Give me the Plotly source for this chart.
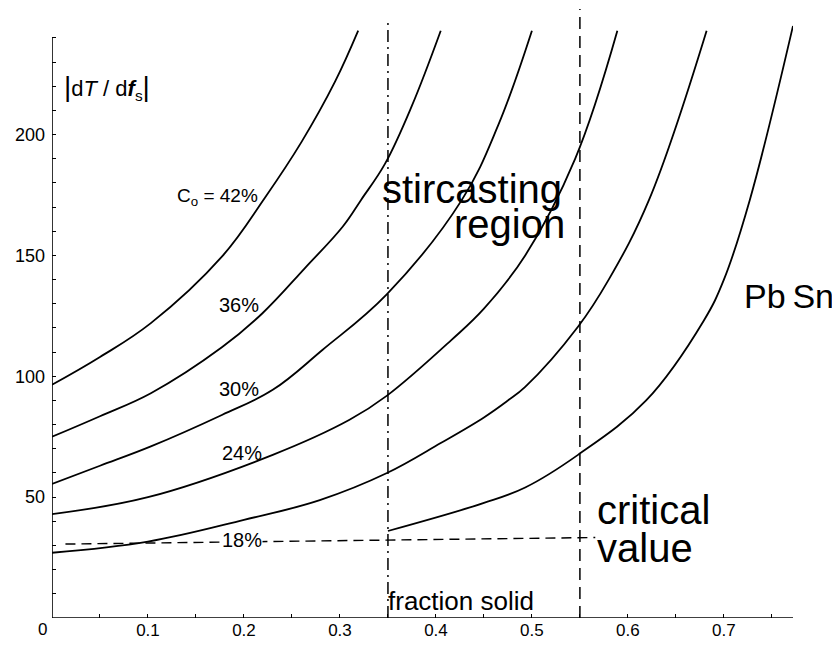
import plotly.graph_objects as go

# ---- data ----
x_42 = [0, 0.05, 0.103, 0.177, 0.222, 0.26, 0.295, 0.319]
y_42 = [96.5, 108, 122, 149.5, 174, 197, 222, 243]

x_36 = [0, 0.05, 0.103, 0.177, 0.219, 0.264, 0.303, 0.322, 0.347, 0.375, 0.405]
y_36 = [75, 83.5, 93, 112, 126, 145, 162, 173, 188, 212, 243]

x_30 = [0, 0.05, 0.103, 0.177, 0.23, 0.282, 0.349, 0.427, 0.465, 0.5]
y_30 = [55.5, 63, 71, 84, 94.4, 111, 134, 173, 204, 243]

x_24 = [0, 0.1, 0.23, 0.31, 0.349, 0.416, 0.45, 0.493, 0.545, 0.589]
y_24 = [43, 50, 67.5, 82, 92, 115, 128, 150, 190, 243]

x_18 = [0, 0.1, 0.2, 0.279, 0.349, 0.405, 0.45, 0.475, 0.493, 0.548, 0.58, 0.622, 0.682]
y_18 = [27, 31.6, 40.6, 48.8, 60, 72.4, 83, 90, 95.6, 120.5, 140, 173, 243]

x_low = [0.35, 0.45, 0.493, 0.548, 0.619, 0.679, 0.7, 0.727, 0.772]
y_low = [36, 47.6, 54, 67.5, 90, 123, 140, 173, 245]

crit_x = [0.014, 0.566]
crit_y = [30.6, 33.3]

stir_lo = 0.35
stir_hi = 0.55
stir_lo_top = 248
stir_hi_top = 252

x_tickvals = [0.05, 0.1, 0.15, 0.2, 0.25, 0.3, 0.35, 0.4, 0.45, 0.5, 0.55, 0.6, 0.65, 0.7, 0.75]
x_ticktext = ["", "0.1", "", "0.2", "", "0.3", "", "0.4", "", "0.5", "", "0.6", "", "0.7", ""]
y_tickvals = list(range(10, 250, 10))
y_ticktext = [str(v) if v in (50, 100, 150, 200) else "" for v in y_tickvals]

FONT = "Liberation Sans"

fig = go.Figure()

for xs, ys in [(x_42, y_42), (x_36, y_36), (x_30, y_30), (x_24, y_24), (x_18, y_18), (x_low, y_low)]:
    fig.add_trace(go.Scatter(x=xs, y=ys, mode="lines",
                             line=dict(color="black", width=1.8, shape="spline", smoothing=1.1),
                             hoverinfo="skip", showlegend=False))

fig.add_trace(go.Scatter(x=crit_x, y=crit_y, mode="lines",
                         line=dict(color="black", width=1.4, dash="10px,6px"),
                         hoverinfo="skip", showlegend=False))
fig.add_trace(go.Scatter(x=[stir_lo, stir_lo], y=[0, stir_lo_top], mode="lines",
                         line=dict(color="black", width=1.5, dash="12px,5px,2px,5px"),
                         hoverinfo="skip", showlegend=False))
fig.add_trace(go.Scatter(x=[stir_hi, stir_hi], y=[0, stir_hi_top], mode="lines",
                         line=dict(color="black", width=1.5, dash="12px,7px"),
                         hoverinfo="skip", showlegend=False))

# axis lines
fig.add_shape(type="line", x0=0, x1=0, y0=0, y1=240, xref="x", yref="y",
              line=dict(color="black", width=1.6))
fig.add_shape(type="line", x0=0, x1=0.772, y0=0, y1=0, xref="x", yref="y",
              line=dict(color="black", width=1.6))

def ann(text, x, y, size, xanchor="center", xref="x", bg=None):
    d = dict(text=text, x=x, y=y, xref=xref, yref="y", showarrow=False,
             xanchor=xanchor, yanchor="middle",
             font=dict(family=FONT, size=size, color="black"))
    if bg:
        d["bgcolor"] = bg
        d["borderpad"] = 0
    fig.add_annotation(**d)

ann("<span style='font-size:28px'>|</span>d<i>T</i> / d<b><i>f</i></b><sub>s</sub><span style='font-size:28px'>|</span>",
    0.0105, 219.4, 22, xanchor="left")
ann("C<sub>o</sub> = 42%", 0.217, 174.3, 19, xanchor="right")
ann("36%", 0.195, 129.6, 20)
ann("30%", 0.195, 94.8, 20)
ann("24%", 0.198, 68.3, 20)
ann("18%", 0.198, 32.4, 20, bg="white")
ann("stircasting", 0.342, 177.5, 40, xanchor="left")
ann("region", 0.537, 163, 40, xanchor="right")
ann("critical", 0.566, 44.5, 40, xanchor="left")
ann("value", 0.566, 29, 40, xanchor="left")
ann("fraction solid", 0.348, 7.0, 26, xanchor="left")
ann("Pb\u2009Sn", 0.931, 133.3, 34, xanchor="left", xref="paper")

fig.add_annotation(text="0", x=0, y=0, xref="x", yref="paper", xshift=-10, yanchor="top",
                   showarrow=False, font=dict(family=FONT, size=17, color="black"))

fig.update_layout(
    width=832, height=637,
    margin=dict(l=44, r=47, t=0, b=27),
    paper_bgcolor="white", plot_bgcolor="white",
    font=dict(family=FONT, color="black"),
    xaxis=dict(range=[0, 0.772], showgrid=False, zeroline=False, showline=False,
               ticks="inside", ticklen=4, tickwidth=1, tickcolor="black",
               tickvals=x_tickvals, ticktext=x_ticktext,
               tickfont=dict(family=FONT, size=17)),
    yaxis=dict(range=[0, 252.4], showgrid=False, zeroline=False, showline=False,
               ticks="inside", ticklen=4, tickwidth=1, tickcolor="black",
               tickvals=y_tickvals, ticktext=y_ticktext, ticklabelstandoff=6,
               tickfont=dict(family=FONT, size=18)),
)

fig.write_html("out.html")
